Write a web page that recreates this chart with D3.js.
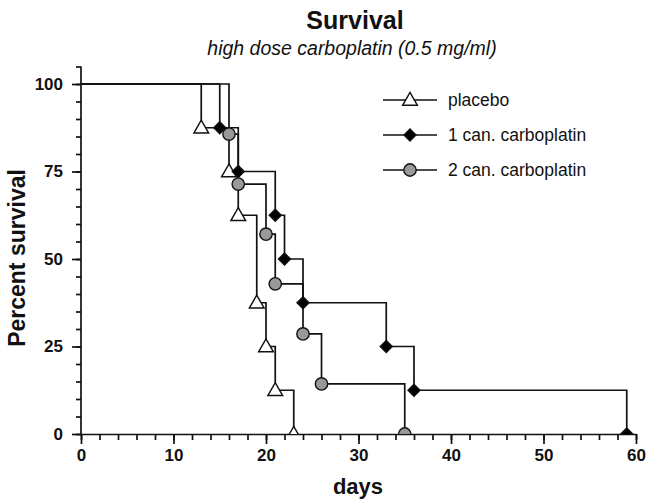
<!DOCTYPE html>
<html>
<head>
<meta charset="utf-8">
<script src="https://cdn.jsdelivr.net/npm/d3@7"></script>
<style>
  body { margin: 0; background: #fff; }
  svg { font-family: Arial, "Liberation Sans", sans-serif; }
</style>
</head>
<body>
<svg id="chart" width="647" height="501"></svg>
<script>
const seriesNames = ["placebo", "1 can. carboplatin", "2 can. carboplatin"];

const placeboDays = [0, 13, 16, 17, 19, 20, 21, 23];
const placeboSurv = [100, 87.5, 75, 62.5, 37.5, 25, 12.5, 0];

const can1Days = [0, 15, 17, 21, 22, 24, 33, 36, 59];
const can1Surv = [100, 87.5, 75, 62.5, 50, 37.5, 25, 12.5, 0];

const can2Days = [0, 16, 17, 20, 21, 24, 26, 35];
const can2Surv = [100, 85.7, 71.4, 57.1, 42.9, 28.6, 14.3, 0];

const xTicks = [0, 10, 20, 30, 40, 50, 60];
const yTicks = [0, 25, 50, 75, 100];

const svg = d3.select("#chart");

const plotLeft = 81, plotRight = 636, plotTop = 84, plotBottom = 434;

const x = d3.scaleLinear().domain([0, 60]).range([plotLeft, plotRight]);
const y = d3.scaleLinear().domain([0, 100]).range([plotBottom, plotTop]);

// clip so markers at 0 are cut by the axis
svg.append("clipPath").attr("id", "plot")
    .append("rect")
    .attr("x", plotLeft).attr("y", 0)
    .attr("width", plotRight - plotLeft + 20).attr("height", plotBottom);

// minor ticks
svg.append("g")
    .attr("transform", `translate(0,${plotBottom})`)
    .call(d3.axisBottom(x).tickValues(d3.range(0, 61, 2)).tickSize(6).tickFormat(""))
    .call(g => g.select(".domain").remove())
    .selectAll("line").attr("stroke", "#111").attr("stroke-width", 1.7);

svg.append("g")
    .attr("transform", `translate(${plotLeft},0)`)
    .call(d3.axisLeft(d3.scaleLinear().domain([0, 105]).range([plotBottom, y(105)]))
        .tickValues(d3.range(0, 106, 5)).tickSize(5).tickFormat(""))
    .call(g => g.select(".domain").remove())
    .selectAll("line").attr("stroke", "#111").attr("stroke-width", 1.7);

// major axes
const xAxis = svg.append("g")
    .attr("transform", `translate(0,${plotBottom})`)
    .call(d3.axisBottom(x).tickValues(xTicks).tickSize(10).tickPadding(5).tickSizeOuter(0));

const yAxis = svg.append("g")
    .attr("transform", `translate(${plotLeft},0)`)
    .call(d3.axisLeft(y).tickValues(yTicks).tickSize(9).tickPadding(9).tickSizeOuter(0));

yAxis.select(".domain").attr("d", `M0,${y(105)}V${plotBottom}`);

[xAxis, yAxis].forEach(g => {
    g.selectAll("line, .domain").attr("stroke", "#111").attr("stroke-width", 1.7);
    g.selectAll("text")
        .attr("fill", "#111")
        .style("font-size", "17px")
        .style("font-weight", "bold");
});

// titles
svg.append("text")
    .attr("x", 355).attr("y", 29)
    .attr("text-anchor", "middle")
    .style("font-size", "25px").style("font-weight", "bold")
    .attr("fill", "#111")
    .text("Survival");

svg.append("text")
    .attr("x", 352).attr("y", 55)
    .attr("text-anchor", "middle")
    .style("font-size", "19.5px").style("font-style", "italic")
    .attr("fill", "#111")
    .text("high dose carboplatin (0.5 mg/ml)");

svg.append("text")
    .attr("x", 358).attr("y", 494)
    .attr("text-anchor", "middle")
    .style("font-size", "22px").style("font-weight", "bold")
    .attr("fill", "#111")
    .text("days");

svg.append("text")
    .attr("transform", "translate(25,258) rotate(-90)")
    .attr("text-anchor", "middle")
    .style("font-size", "23px").style("font-weight", "bold")
    .attr("fill", "#111")
    .text("Percent survival");

// series
const series = [
    { name: seriesNames[0], days: placeboDays, surv: placeboSurv,
      symbol: d3.symbolTriangle, size: 95, fill: "#fff", rot: 0 },
    { name: seriesNames[1], days: can1Days, surv: can1Surv,
      symbol: d3.symbolSquare, size: 72, fill: "#000", rot: 45 },
    { name: seriesNames[2], days: can2Days, surv: can2Surv,
      symbol: d3.symbolCircle, size: 120, fill: "#999", rot: 0 }
];

const line = d3.line()
    .x(d => x(d[0]))
    .y(d => y(d[1]))
    .curve(d3.curveStepAfter);

const plot = svg.append("g").attr("clip-path", "url(#plot)");

series.forEach(s => {
    const pts = s.days.map((d, i) => [d, s.surv[i]]);
    plot.append("path")
        .datum(pts)
        .attr("fill", "none")
        .attr("stroke", "#111")
        .attr("stroke-width", 1.7)
        .attr("d", line);
});

const dy = s => (s.symbol === d3.symbolTriangle ? 1 : 0);

series.forEach(s => {
    const pts = s.days.map((d, i) => [d, s.surv[i]]).slice(1);
    plot.selectAll(null)
        .data(pts)
        .enter()
        .append("path")
        .attr("transform", d => `translate(${x(d[0])},${y(d[1]) + dy(s)}) rotate(${s.rot})`)
        .attr("d", d3.symbol().type(s.symbol).size(s.size))
        .attr("fill", s.fill)
        .attr("stroke", "#111")
        .attr("stroke-width", 1.4);
});

// legend
const legend = svg.append("g");
series.forEach((s, i) => {
    const ly = 100 + i * 35;
    legend.append("line")
        .attr("x1", 383).attr("x2", 437)
        .attr("y1", ly).attr("y2", ly)
        .attr("stroke", "#111").attr("stroke-width", 1.7);
    legend.append("path")
        .attr("transform", `translate(410,${ly + dy(s)}) rotate(${s.rot})`)
        .attr("d", d3.symbol().type(s.symbol).size(s.size))
        .attr("fill", s.fill)
        .attr("stroke", "#111")
        .attr("stroke-width", 1.4);
    legend.append("text")
        .attr("x", 448).attr("y", ly + 6)
        .style("font-size", "17.5px")
        .attr("fill", "#111")
        .text(s.name);
});
</script>
</body>
</html>
